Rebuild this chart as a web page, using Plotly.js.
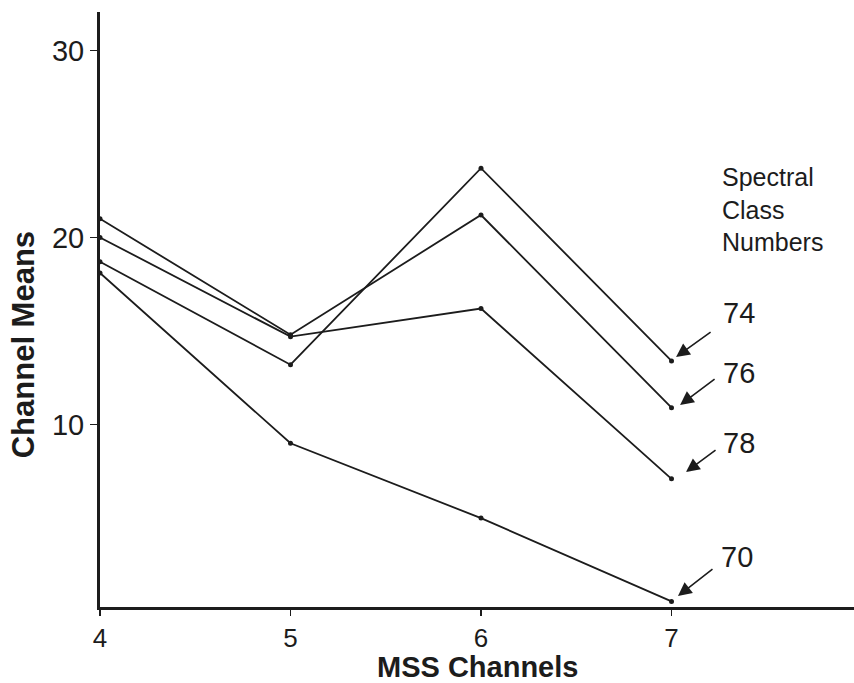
<!DOCTYPE html>
<html>
<head>
<meta charset="utf-8">
<script src="https://cdn.plot.ly/plotly-3.0.1.min.js"></script>
<style>
  html, body { margin: 0; padding: 0; background: #ffffff; }
  #chart { width: 854px; height: 683px; }
</style>
</head>
<body>
<div id="chart"></div>
<script>
// MSS channels (x axis)
const channels = [4, 5, 6, 7];
const xTickLabels = ['4', '5', '6', '7'];
const yTickValues = [10, 20, 30];

// Channel means for each spectral class
const classNames = ['74', '76', '78', '70'];
const class74 = [18.7, 13.2, 23.7, 13.4];
const class76 = [21.0, 14.8, 21.2, 10.9];
const class78 = [20.0, 14.7, 16.2, 7.1];
const class70 = [18.1, 9.0, 5.0, 0.55];
const seriesValues = [class74, class76, class78, class70];

const ink = '#1c1c1c';
const FONT = '"Liberation Sans", Arial, Helvetica, sans-serif';

const traces = seriesValues.map((vals, i) => ({
  type: 'scatter',
  mode: 'lines+markers',
  name: classNames[i],
  x: channels,
  y: vals,
  line: { color: ink, width: 1.8 },
  marker: { color: ink, size: 5 },
  hoverinfo: 'x+y+name'
}));

// label positions (data coords) and arrows
const labelPos = [
  { lx: 7.354, ly: 15.96, tx: 7.213, ty: 15.00, hx: 7.024, hy: 13.61 },
  { lx: 7.354, ly: 12.76, tx: 7.234, ty: 12.49, hx: 7.045, hy: 11.05 },
  { lx: 7.354, ly: 9.02,  tx: 7.239, ty: 8.69,  hx: 7.076, hy: 7.47 },
  { lx: 7.344, ly: 2.92,  tx: 7.223, ty: 2.33,  hx: 7.034, hy: 0.84 }
];

const annotations = [];
labelPos.forEach((p, i) => {
  annotations.push({
    xref: 'x', yref: 'y', x: p.lx, y: p.ly,
    text: classNames[i], showarrow: false,
    xanchor: 'center', yanchor: 'middle',
    font: { family: FONT, size: 29, color: ink }
  });
  annotations.push({
    xref: 'x', yref: 'y', x: p.hx, y: p.hy,
    axref: 'x', ayref: 'y', ax: p.tx, ay: p.ty,
    text: '', showarrow: true,
    arrowhead: 2, arrowsize: 1.7, arrowwidth: 1.6,
    arrowcolor: ink, standoff: 0, startstandoff: 0
  });
});

annotations.push({
  xref: 'x', yref: 'y', x: 7.255, y: 24.1,
  text: 'Spectral<br>Class<br>Numbers', showarrow: false,
  xanchor: 'left', yanchor: 'top', align: 'left',
  font: { family: FONT, size: 25, color: ink }
});

annotations.push({
  xref: 'paper', yref: 'paper', x: -0.102, y: 0.44,
  text: 'Channel Means', showarrow: false, textangle: -90,
  xanchor: 'center', yanchor: 'middle',
  font: { family: FONT, size: 31, color: ink, weight: 700 }
});

annotations.push({
  xref: 'paper', yref: 'paper', x: 0.5, y: -0.1,
  text: 'MSS Channels', showarrow: false,
  xanchor: 'center', yanchor: 'middle',
  font: { family: FONT, size: 29, color: ink, weight: 700 }
});

const layout = {
  width: 854,
  height: 683,
  margin: { l: 100, r: 0, t: 12, b: 76 },
  paper_bgcolor: '#ffffff',
  plot_bgcolor: '#ffffff',
  showlegend: false,
  font: { family: FONT, color: ink },
  xaxis: {
    range: [4, 7.958],
    tickvals: channels,
    ticktext: xTickLabels,
    showgrid: false,
    zeroline: false,
    showline: true,
    linecolor: ink,
    linewidth: 3,
    ticks: 'outside',
    ticklen: 6,
    tickwidth: 1.5,
    tickcolor: ink,
    tickfont: { family: FONT, size: 26, color: ink }
  },
  yaxis: {
    range: [0.25, 32.05],
    tickvals: yTickValues,
    ticktext: yTickValues.map(String),
    showgrid: false,
    zeroline: false,
    showline: true,
    linecolor: ink,
    linewidth: 3,
    ticks: 'outside',
    ticklen: 7,
    tickwidth: 1.5,
    tickcolor: ink,
    tickfont: { family: FONT, size: 29, color: ink }
  },
  annotations: annotations
};

Plotly.newPlot('chart', traces, layout, { displayModeBar: false, staticPlot: true });
</script>
</body>
</html>
